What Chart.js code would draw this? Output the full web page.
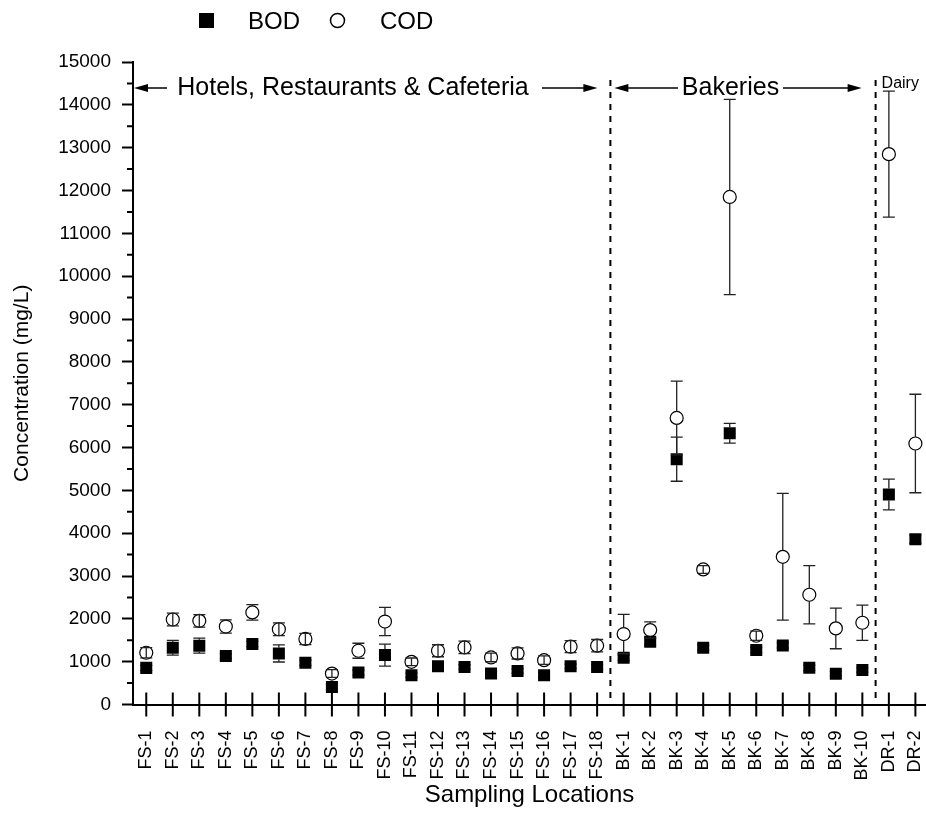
<!DOCTYPE html>
<html>
<head>
<meta charset="utf-8">
<title>BOD and COD by sampling location</title>
<script src="https://cdn.jsdelivr.net/npm/chart.js"></script>
<style>
  html, body { margin: 0; padding: 0; background: #fff; }
  #wrap { width: 926px; height: 821px; position: relative; }
</style>
</head>
<body>
<div id="wrap"><canvas id="concChart"></canvas></div>
<script>
// sampling locations (FS = hotels/restaurants, BK = bakeries, DR = dairy)
const locations = ['FS-1','FS-2','FS-3','FS-4','FS-5','FS-6','FS-7','FS-8','FS-9','FS-10',
  'FS-11','FS-12','FS-13','FS-14','FS-15','FS-16','FS-17','FS-18',
  'BK-1','BK-2','BK-3','BK-4','BK-5','BK-6','BK-7','BK-8','BK-9','BK-10',
  'DR-1','DR-2'];

// mg/L
const bodMean = [855, 1325, 1373, 1130, 1412, 1192, 973, 408, 745, 1153,
  682, 894, 878, 722, 784, 682, 894, 878,
  1092, 1465, 5727, 1325, 6333, 1271, 1380, 859, 719, 805,
  4903, 3860];
const bodErr = [60, 170, 175, 60, 60, 200, 60, 60, 60, 255,
  50, 50, 50, 50, 50, 50, 50, 50,
  60, 80, 515, 60, 230, 60, 60, 60, 50, 50,
  360, 100];
const codMean = [1208, 1984, 1953, 1820, 2150, 1757, 1530, 722, 1255, 1937,
  996, 1255, 1333, 1098, 1192, 1035, 1349, 1373,
  1645, 1738, 6690, 3153, 11849, 1605, 3448, 2562, 1777, 1909,
  12849, 6093];
const codErr = [120, 150, 145, 155, 180, 150, 130, 90, 175, 330,
  90, 140, 145, 100, 130, 100, 140, 145,
  460, 190, 860, 90, 2280, 110, 1480, 680, 475, 410,
  1470, 1150];

const yMax = 15000;
const yStep = 1000;

const FONT = 'Arial, "Liberation Sans", sans-serif';

function drawArrow(ctx, x1, x2, y) {
  // line from x1 to x2, head at x2
  const dir = x2 > x1 ? 1 : -1;
  ctx.beginPath();
  ctx.moveTo(x1, y);
  ctx.lineTo(x2 - dir * 10, y);
  ctx.stroke();
  ctx.beginPath();
  ctx.moveTo(x2, y);
  ctx.lineTo(x2 - dir * 14, y - 4);
  ctx.lineTo(x2 - dir * 14, y + 4);
  ctx.closePath();
  ctx.fill();
}

function drawBars(chart, mean, err, half) {
  const {ctx, scales: {x, y}} = chart;
  ctx.save();
  ctx.strokeStyle = '#222';
  ctx.lineWidth = 1.3;
  mean.forEach((m, i) => {
    const px = x.getPixelForValue(i);
    const top = y.getPixelForValue(m + err[i]);
    const bot = y.getPixelForValue(m - err[i]);
    const mid = y.getPixelForValue(m);
    ctx.beginPath();
    if (mid - top > half) {
      ctx.moveTo(px, top); ctx.lineTo(px, mid - half);
      ctx.moveTo(px, mid + half); ctx.lineTo(px, bot);
    } else {
      ctx.moveTo(px, top); ctx.lineTo(px, bot);
    }
    ctx.moveTo(px - 6, top); ctx.lineTo(px + 6, top);
    ctx.moveTo(px - 6, bot); ctx.lineTo(px + 6, bot);
    ctx.stroke();
  });
  ctx.restore();
}

const errorBars = {
  id: 'errorBars',
  beforeDatasetsDraw(chart) { drawBars(chart, bodMean, bodErr, 6); },
  afterDatasetsDraw(chart) { drawBars(chart, codMean, codErr, 6.5); }
};

const decorations = {
  id: 'decorations',
  afterDraw(chart) {
    const {ctx, chartArea, scales: {x, y}} = chart;
    ctx.save();
    ctx.strokeStyle = '#000';
    ctx.fillStyle = '#000';

    // y minor ticks
    ctx.lineWidth = 2;
    ctx.beginPath();
    for (let v = yStep / 2; v < yMax; v += yStep) {
      const py = y.getPixelForValue(v);
      ctx.moveTo(chartArea.left - 6, py);
      ctx.lineTo(chartArea.left, py);
    }
    // x ticks crossing the axis
    locations.forEach((_, i) => {
      const px = x.getPixelForValue(i);
      ctx.moveTo(px, chartArea.bottom - 12);
      ctx.lineTo(px, chartArea.bottom + 12);
    });
    ctx.stroke();

    // group dividers
    const d1 = x.getPixelForValue(17.5);
    const d2 = x.getPixelForValue(27.5);
    ctx.lineWidth = 2;
    ctx.setLineDash([6, 6]);
    ctx.beginPath();
    ctx.moveTo(d1, 80); ctx.lineTo(d1, chartArea.bottom);
    ctx.moveTo(d2, 80); ctx.lineTo(d2, chartArea.bottom);
    ctx.stroke();
    ctx.setLineDash([]);

    // group labels with arrows
    const ay = 88;
    ctx.lineWidth = 1.5;
    drawArrow(ctx, 167, chartArea.left + 1, ay);
    drawArrow(ctx, 542, d1 - 13, ay);
    drawArrow(ctx, 678, d1 + 4, ay);
    drawArrow(ctx, 783, d2 - 14, ay);
    ctx.font = '25px ' + FONT;
    ctx.textBaseline = 'middle';
    ctx.textAlign = 'center';
    ctx.fillText('Hotels, Restaurants & Cafeteria', 353, ay);
    ctx.fillText('Bakeries', 730.5, ay);
    ctx.textAlign = 'left';
    ctx.font = '16px ' + FONT;
    ctx.fillText('Dairy', d2 + 6, 84);

    // legend
    ctx.fillRect(199, 13, 15, 15);
    ctx.font = '24px ' + FONT;
    ctx.fillText('BOD', 248, 22);
    ctx.lineWidth = 1.5;
    ctx.beginPath();
    ctx.arc(337.5, 20.5, 7, 0, Math.PI * 2);
    ctx.stroke();
    ctx.fillText('COD', 380, 22);
    ctx.restore();
  }
};

new Chart(document.getElementById('concChart'), {
  type: 'scatter',
  data: {
    datasets: [
      {
        label: 'BOD',
        data: bodMean.map((v, i) => ({x: i, y: v})),
        pointStyle: 'rect',
        pointRadius: 8.5,
        pointHoverRadius: 8.5,
        backgroundColor: '#000',
        borderColor: '#000',
        borderWidth: 0
      },
      {
        label: 'COD',
        data: codMean.map((v, i) => ({x: i, y: v})),
        pointStyle: 'circle',
        pointRadius: 6.5,
        pointHoverRadius: 6.5,
        backgroundColor: '#fff',
        borderColor: '#000',
        borderWidth: 1.2
      }
    ]
  },
  options: {
    responsive: true,
    maintainAspectRatio: false,
    animation: false,
    layout: { autoPadding: false, padding: { top: 62, right: 0, bottom: 0, left: 0 } },
    plugins: {
      legend: { display: false },
      tooltip: { enabled: false }
    },
    scales: {
      x: {
        type: 'linear',
        min: -0.5,
        max: 29.4,
        afterBuildTicks(scale) {
          scale.ticks = locations.map((_, i) => ({value: i}));
        },
        afterFit(scale) {
          scale.height = 116.5;
          scale.paddingLeft = 0;
          scale.paddingRight = 0;
        },
        ticks: {
          autoSkip: false,
          minRotation: 90,
          maxRotation: 90,
          padding: 18,
          color: '#000',
          font: { family: FONT, size: 18 },
          callback: (v) => locations[v]
        },
        grid: { display: false },
        border: { display: true, color: '#000', width: 2 },
        title: {
          display: true,
          text: 'Sampling Locations',
          color: '#000',
          font: { family: FONT, size: 24 },
          padding: { top: 0, bottom: 11 }
        }
      },
      y: {
        min: 0,
        max: yMax,
        afterFit(scale) {
          scale.width = 133;
          scale.paddingTop = 0;
          scale.paddingBottom = 0;
        },
        ticks: {
          stepSize: yStep,
          padding: 11,
          color: '#000',
          font: { family: FONT, size: 19 },
          callback: (v) => String(v)
        },
        grid: {
          drawOnChartArea: false,
          tickLength: 11,
          tickWidth: 2,
          tickColor: '#000'
        },
        border: { display: true, color: '#000', width: 2 },
        title: {
          display: true,
          text: 'Concentration (mg/L)',
          color: '#000',
          font: { family: FONT, size: 21 },
          padding: { top: 10, bottom: 0 }
        }
      }
    }
  },
  plugins: [errorBars, decorations]
});
</script>
</body>
</html>
